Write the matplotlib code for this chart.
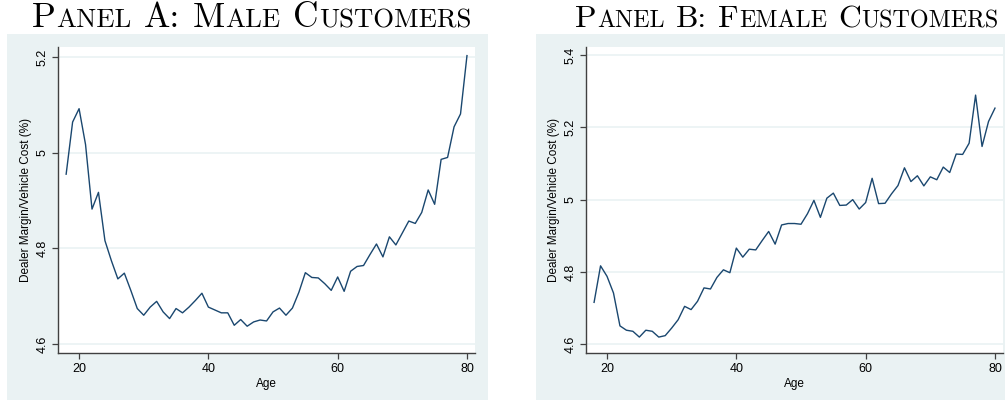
import matplotlib
matplotlib.use('Agg')
import matplotlib.pyplot as plt
from matplotlib.patches import Rectangle
from matplotlib.ticker import FuncFormatter

ages = list(range(18, 81))

male_margin = [4.955, 5.064, 5.092, 5.017, 4.882, 4.917, 4.816, 4.774, 4.736, 4.748,
               4.712, 4.674, 4.660, 4.677, 4.689, 4.667, 4.653, 4.674, 4.665, 4.677,
               4.691, 4.706, 4.677, 4.671, 4.665, 4.665, 4.639, 4.651, 4.637, 4.646,
               4.650, 4.648, 4.667, 4.675, 4.660, 4.675, 4.708, 4.749, 4.739, 4.738,
               4.726, 4.712, 4.740, 4.710, 4.752, 4.762, 4.764, 4.787, 4.809, 4.782,
               4.824, 4.807, 4.832, 4.857, 4.852, 4.875, 4.922, 4.892, 4.986, 4.990,
               5.054, 5.081, 5.203]

female_margin = [4.716, 4.817, 4.788, 4.742, 4.651, 4.639, 4.636, 4.620, 4.639, 4.636,
                 4.620, 4.624, 4.645, 4.668, 4.705, 4.696, 4.719, 4.756, 4.753, 4.785,
                 4.806, 4.798, 4.866, 4.841, 4.863, 4.861, 4.887, 4.912, 4.877, 4.930,
                 4.934, 4.934, 4.932, 4.961, 4.998, 4.951, 5.004, 5.018, 4.984, 4.985,
                 5.000, 4.974, 4.992, 5.059, 4.989, 4.990, 5.016, 5.039, 5.088, 5.050,
                 5.066, 5.038, 5.063, 5.055, 5.090, 5.075, 5.126, 5.125, 5.156, 5.289,
                 5.147, 5.216, 5.253]

x_ticks = [20, 40, 60, 80]
male_y_ticks = [4.6, 4.8, 5.0, 5.2]
female_y_ticks = [4.6, 4.8, 5.0, 5.2, 5.4]

STATA_BG = '#eaf2f3'
STATA_NAVY = '#1a476f'
W, H = 1005, 400

plt.rcParams['font.family'] = ['Liberation Sans', 'DejaVu Sans']

fig = plt.figure(figsize=(W / 100, H / 100), dpi=100)
fig.patch.set_facecolor('white')


def px_box(x0, y0, x1, y1):
    # pixel box (top-left origin) -> figure fraction [left, bottom, width, height]
    return [x0 / W, 1 - y1 / H, (x1 - x0) / W, (y1 - y0) / H]


# light graph regions behind each panel
for x0, x1 in [(7, 488), (536, 1005)]:
    l, b, w, h = px_box(x0, 34, x1, 400)
    fig.patches.append(Rectangle((l, b), w, h, transform=fig.transFigure,
                                 facecolor=STATA_BG, edgecolor='none', zorder=-5))


def draw_panel(rect, y, yticks, xlim, ylim):
    ax = fig.add_axes(px_box(*rect))
    ax.set_zorder(2)
    ax.set_facecolor('white')
    for yt in yticks:
        ax.axhline(yt, color=STATA_BG, lw=1.2, zorder=1)
    ax.plot(ages, y, color=STATA_NAVY, lw=1.0, zorder=3)
    ax.set_xlim(*xlim)
    ax.set_ylim(*ylim)
    ax.set_xticks(x_ticks)
    ax.set_yticks(yticks)
    ax.yaxis.set_major_formatter(FuncFormatter(lambda v, p: '%g' % round(v, 2)))
    for s in ['top', 'right']:
        ax.spines[s].set_visible(False)
    for s in ['left', 'bottom']:
        ax.spines[s].set_color('#404040')
        ax.spines[s].set_linewidth(1.0)
    ax.tick_params(direction='out', length=4, width=0.9, color='#404040',
                   labelsize=9)
    ax.tick_params(axis='x', pad=3)
    ax.tick_params(axis='y', pad=3)
    for lab in ax.get_yticklabels():
        lab.set_rotation(90)
        lab.set_va('center')
    ax.set_ylabel('Dealer Margin/Vehicle Cost (%)', fontsize=8.5, labelpad=3)
    ax.set_xlabel('Age', fontsize=8.5, labelpad=2)
    return ax


draw_panel((58, 47, 475, 353), male_margin, male_y_ticks,
           (16.74, 81.24), (4.581, 5.221))
draw_panel((586, 47, 1003, 353), female_margin, female_y_ticks,
           (16.75, 81.24), (4.576, 5.422))


def small_caps(text, x0, x1, baseline, size=18, ratio=0.76):
    # fake small caps: capitals at full size, lower case as smaller capitals
    renderer = fig.canvas.get_renderer()

    runs = []
    for ch in text:
        kind = 'sp' if ch == ' ' else ('lo' if ch.islower() else 'up')
        if runs and runs[-1][0] == kind:
            runs[-1][1] += ch
        else:
            runs.append([kind, ch])

    def width(s, fs):
        t = fig.text(0, 0, s, fontsize=fs, family='cmr10')
        w = t.get_window_extent(renderer).width
        t.remove()
        return w

    def layout(fs):
        space = width('x x', fs) - width('xx', fs)
        items, total = [], 0.0
        for kind, s in runs:
            if kind == 'sp':
                total += space * len(s)
                continue
            fsz = fs * ratio if kind == 'lo' else fs
            w = width(s.upper(), fsz)
            items.append((total, s.upper(), fsz))
            total += w + 0.6
        return items, total

    items, total = layout(size)
    size = size * (x1 - x0) / total
    items, total = layout(size)
    for off, s, fsz in items:
        fig.text((x0 + off) / W, 1 - baseline / H, s, fontsize=fsz,
                 family='cmr10', va='baseline', ha='left', color='black')


small_caps('Panel A: Male Customers', 32, 473, 27)
small_caps('Panel B: Female Customers', 575, 1000, 27)

fig.savefig('out.png', dpi=100)
